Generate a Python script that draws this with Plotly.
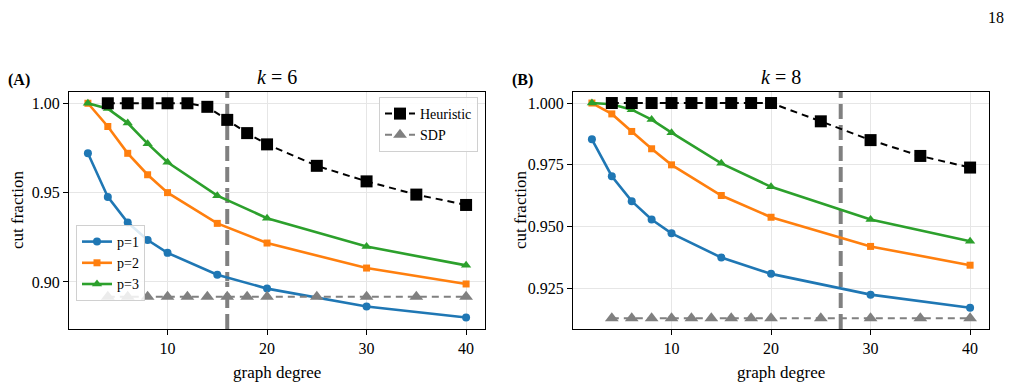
import plotly.graph_objects as go

# ---------------- data ----------------
deg_p = [2, 4, 6, 8, 10, 15, 20, 30, 40]
deg_h = [4, 6, 8, 10, 12, 14, 16, 18, 20, 25, 30, 35, 40]

# k = 6
k6_p1 = [0.972, 0.9476, 0.9333, 0.9235, 0.9163, 0.9041, 0.8963, 0.8863, 0.8801]
k6_p2 = [1.000, 0.987, 0.972, 0.960, 0.950, 0.9328, 0.9218, 0.9078, 0.8989]
k6_p3 = [1.000, 0.997, 0.9889, 0.9774, 0.967, 0.9483, 0.9357, 0.9198, 0.9093]
k6_heur = [1.0, 1.0, 1.0, 1.0, 1.0, 0.998, 0.9907, 0.9833, 0.977, 0.965, 0.9563, 0.9489, 0.9431]
k6_sdp = [0.8918] * 13
k6_vline = 16

# k = 8
k8_p1 = [0.9853, 0.9704, 0.9603, 0.9529, 0.9473, 0.9375, 0.9309, 0.9225, 0.9172]
k8_p2 = [1.000, 0.9956, 0.9885, 0.9815, 0.975, 0.9626, 0.9538, 0.942, 0.9344]
k8_p3 = [1.000, 0.9995, 0.9973, 0.9933, 0.988, 0.9756, 0.9661, 0.9529, 0.9441]
k8_heur = [1.0, 1.0, 1.0, 1.0, 1.0, 1.0, 1.0, 1.0, 1.0, 0.9926, 0.985, 0.9786, 0.9739]
k8_sdp = [0.9129] * 13
k8_vline = 27

x_ticks = [10, 20, 30, 40]
y_ticks_k6 = [0.90, 0.95, 1.00]
y_ticks_k8 = [0.925, 0.950, 0.975, 1.000]

# ---------------- style ----------------
FONT = "Liberation Serif, DejaVu Serif, serif"
BLUE, ORANGE, GREEN = "#1f77b4", "#ff7f0e", "#2ca02c"
GRAY = "#808080"
W, H = 1012, 387

fig = go.Figure()


def add_panel(xa, ya, p1, p2, p3, heur, sdp, show):
    for vals, name, color, sym, sz in [
        (p1, "p=1", BLUE, "circle", 8),
        (p2, "p=2", ORANGE, "square", 7),
        (p3, "p=3", GREEN, "triangle-up", 9),
    ]:
        fig.add_trace(go.Scatter(
            x=deg_p, y=vals, mode="lines+markers", name=name,
            line=dict(color=color, width=2.6),
            marker=dict(color=color, symbol=sym, size=sz),
            xaxis=xa, yaxis=ya, showlegend=show, legend="legend2"))
    fig.add_trace(go.Scatter(
        x=deg_h, y=heur, mode="lines+markers", name="Heuristic",
        line=dict(color="black", width=2, dash="7px,5px"),
        marker=dict(color="black", symbol="square", size=12),
        xaxis=xa, yaxis=ya, showlegend=show, legend="legend"))
    fig.add_trace(go.Scatter(
        x=deg_h, y=sdp, mode="lines+markers", name="SDP",
        line=dict(color=GRAY, width=2, dash="7px,5px"),
        marker=dict(color=GRAY, symbol="triangle-up", size=12),
        xaxis=xa, yaxis=ya, showlegend=show, legend="legend"))


add_panel("x", "y", k6_p1, k6_p2, k6_p3, k6_heur, k6_sdp, True)
add_panel("x2", "y2", k8_p1, k8_p2, k8_p3, k8_heur, k8_sdp, False)

for xref, xv in [("x", k6_vline), ("x2", k8_vline)]:
    yref = "y domain" if xref == "x" else "y2 domain"
    fig.add_shape(type="line", xref=xref, yref=yref, x0=xv, x1=xv, y0=0, y1=1,
                  line=dict(color=GRAY, width=4, dash="15px,6px"), layer="below")

axis_common = dict(
    showline=True, mirror=True, linecolor="black", linewidth=1.2,
    ticks="outside", ticklen=5, tickwidth=1, tickcolor="black",
    showgrid=True, gridcolor="#e6e6e6", gridwidth=1, zeroline=False,
    tickfont=dict(family=FONT, size=16, color="black"),
)

y_top, y_bot = 92, 329
ydom = [1 - y_bot / H, 1 - y_top / H]

fig.update_layout(
    width=W, height=H, margin=dict(l=0, r=0, t=0, b=0),
    plot_bgcolor="white", paper_bgcolor="white",
    font=dict(family=FONT, color="black"),
    xaxis=dict(domain=[69 / W, 485 / W], range=[0.1, 41.9], tickvals=x_ticks, anchor="y", **axis_common),
    yaxis=dict(domain=ydom, range=[0.8737, 1.0063], tickvals=y_ticks_k6, tickformat=".2f", anchor="x", **axis_common),
    xaxis2=dict(domain=[573 / W, 989 / W], range=[0.1, 41.9], tickvals=x_ticks, anchor="y2", **axis_common),
    yaxis2=dict(domain=ydom, range=[0.9086, 1.00446], tickvals=y_ticks_k8, tickformat=".3f", anchor="x2", **axis_common),
    legend=dict(x=478 / W, y=1 - 97 / H, xanchor="right", yanchor="top",
                bgcolor="rgba(255,255,255,0.85)", bordercolor="#d0d0d0", borderwidth=1,
                font=dict(family=FONT, size=14), tracegroupgap=0, itemwidth=30),
    legend2=dict(x=76 / W, y=1 - 301 / H, xanchor="left", yanchor="bottom",
                 bgcolor="rgba(255,255,255,0.85)", bordercolor="#d0d0d0", borderwidth=1,
                 font=dict(family=FONT, size=14), tracegroupgap=0, itemwidth=30),
)

ann = []
def paper_ann(text, px, py, size, angle=0, **kw):
    ann.append(dict(text=text, x=px / W, y=1 - py / H, xref="paper", yref="paper",
                    showarrow=False, textangle=angle, xanchor="center", yanchor="middle",
                    font=dict(family=FONT, size=size, color="black"), **kw))

paper_ann("<i>k</i> = 6", 277, 77, 20)
paper_ann("<i>k</i> = 8", 781, 77, 20)
paper_ann("<b>(A)</b>", 19, 80, 16)
paper_ann("<b>(B)</b>", 522, 80, 16)
paper_ann("cut fraction", 17, 210, 17, angle=-90)
paper_ann("cut fraction", 520, 210, 17, angle=-90)
paper_ann("graph degree", 277, 372, 17)
paper_ann("graph degree", 781, 372, 17)
paper_ann("18", 996, 17, 16)
fig.update_layout(annotations=ann)

fig.write_html("out.html")
